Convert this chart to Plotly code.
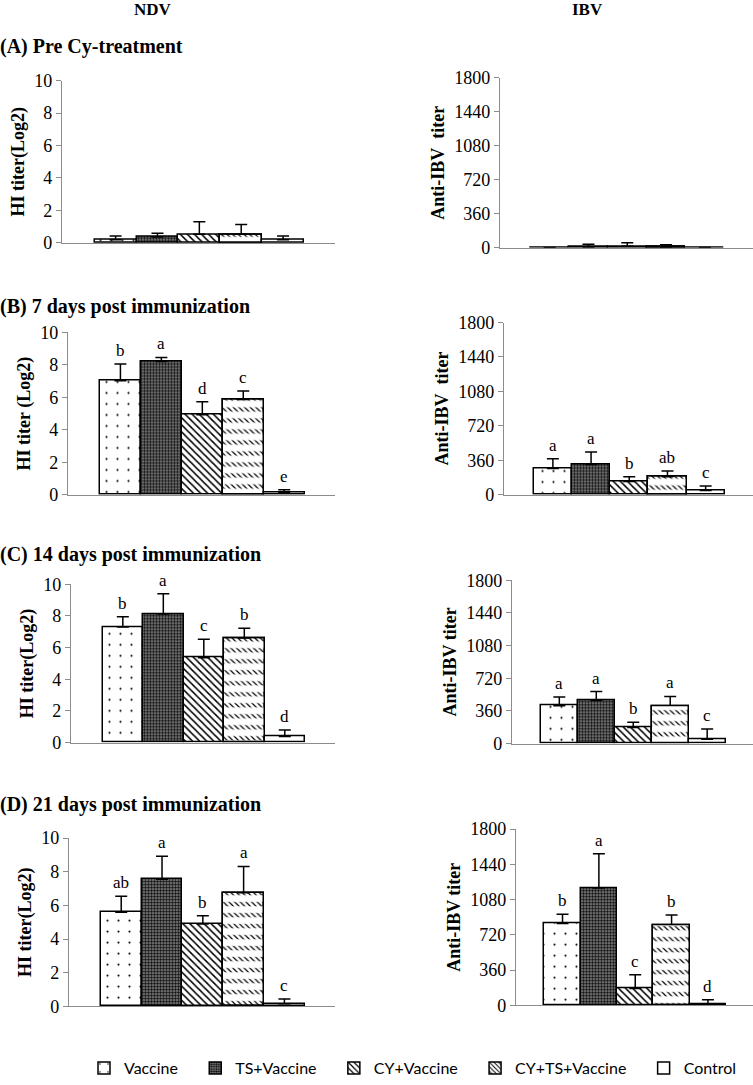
import plotly.graph_objects as go

groups = ["Vaccine", "TS+Vaccine", "CY+Vaccine", "CY+TS+Vaccine", "Control"]

# NDV HI titer (Log2)
ndv_pre = [0.20, 0.37, 0.53, 0.53, 0.20]
ndv_pre_err = [0.23, 0.23, 0.77, 0.60, 0.23]
ndv_pre_sig = ["", "", "", "", ""]
ndv_d7 = [7.02, 8.21, 4.93, 5.85, 0.12]
ndv_d7_err = [1.03, 0.25, 0.80, 0.54, 0.19]
ndv_d7_sig = ["b", "a", "d", "c", "e"]
ndv_d14 = [7.30, 8.12, 5.36, 6.61, 0.38]
ndv_d14_err = [0.65, 1.29, 1.17, 0.61, 0.41]
ndv_d14_sig = ["b", "a", "c", "b", "d"]
ndv_d21 = [5.60, 7.55, 4.89, 6.75, 0.16]
ndv_d21_err = [0.95, 1.37, 0.49, 1.57, 0.27]
ndv_d21_sig = ["ab", "a", "b", "a", "c"]

# IBV antibody titer
ibv_pre = [4, 10, 18, 10, 4]
ibv_pre_err = [0, 29, 35, 22, 0]
ibv_pre_sig = ["", "", "", "", ""]
ibv_d7 = [275, 317, 139, 188, 45]
ibv_d7_err = [101, 129, 49, 59, 45]
ibv_d7_sig = ["a", "a", "b", "ab", "c"]
ibv_d14 = [417, 476, 176, 413, 48]
ibv_d14_err = [95, 98, 58, 107, 113]
ibv_d14_sig = ["a", "a", "b", "a", "c"]
ibv_d21 = [836, 1199, 173, 822, 17]
ibv_d21_err = [95, 350, 139, 102, 41]
ibv_d21_sig = ["b", "a", "c", "b", "d"]

ndv_ticks = [0, 2, 4, 6, 8, 10]
ibv_ticks = [0, 360, 720, 1080, 1440, 1800]

headings = ["(A) Pre Cy-treatment", "(B) 7 days post immunization",
            "(C) 14 days post immunization", "(D) 21 days post immunization"]

W, H = 753, 1085
SERIF = "Liberation Serif, Times New Roman, serif"
GREY = "#8c8c8c"

# fill styles for each group
styles = {
    "Vaccine": dict(color="white", pattern=dict(shape=".", size=11, solidity=0.03, fgopacity=1,
                                                 fgcolor="black", bgcolor="white", fillmode="overlay")),
    "TS+Vaccine": dict(color="#8c8c8c", pattern=dict(shape=".", size=3, solidity=0.55, fgopacity=1,
                                                      fgcolor="#111111", bgcolor="#8c8c8c", fillmode="overlay")),
    "CY+Vaccine": dict(color="white", pattern=dict(shape="\\", size=5, solidity=0.3, fgopacity=1,
                                                    fgcolor="black", bgcolor="white", fillmode="overlay")),
    "CY+TS+Vaccine": dict(color="white", pattern=dict(shape="\\", size=4, solidity=0.3, fgopacity=1,
                                                       fgcolor="black", bgcolor="white", fillmode="overlay")),
    "Control": dict(color="white", pattern=dict(shape="", fillmode="overlay")),
}

# panel layout in pixels: (x0, ytop, ybottom) for NDV and IBV, heading y
rows = [
    (ndv_pre, ndv_pre_err, ndv_pre_sig, ibv_pre, ibv_pre_err, ibv_pre_sig,
     "HI titer(Log2)", "Anti-IBV\u00a0\u00a0titer", (62, 81, 244), (500, 78, 249), 47),
    (ndv_d7, ndv_d7_err, ndv_d7_sig, ibv_d7, ibv_d7_err, ibv_d7_sig,
     "HI titer (Log2)", "Anti-IBV\u00a0\u00a0titer", (68, 334, 497), (504, 324, 497), 308),
    (ndv_d14, ndv_d14_err, ndv_d14_sig, ibv_d14, ibv_d14_err, ibv_d14_sig,
     "HI titer(Log2)", "Anti-IBV titer", (71, 587, 746), (512, 583, 747), 557),
    (ndv_d21, ndv_d21_err, ndv_d21_sig, ibv_d21, ibv_d21_err, ibv_d21_sig,
     "HI titer(Log2)", "Anti-IBV titer", (69, 842, 1011), (516, 833, 1010), 808),
]

fig = go.Figure()
annotations = []
layout_axes = {}

ax = 0
for r, row in enumerate(rows):
    (nm, ne, ns, im, ie, isig, ltitle, rtitle, lpos, rpos, head_y) = row
    for c, (means, errs, sigs, title, pos, ticks, ymax) in enumerate([
        (nm, ne, ns, ltitle, lpos, ndv_ticks, 10),
        (im, ie, isig, rtitle, rpos, ibv_ticks, 1800),
    ]):
        ax += 1
        xa = "x" if ax == 1 else f"x{ax}"
        ya = "y" if ax == 1 else f"y{ax}"
        x0 = pos[0]
        x1 = 335 if c == 0 else W
        for i, g in enumerate(groups):
            st = styles[g]
            pad = "\u00a0" * 3 if i < len(groups) - 1 else ""
            fig.add_trace(go.Bar(
                x=[g], y=[means[i]], name=g + pad, xaxis=xa, yaxis=ya,
                width=1, legendgroup=g, showlegend=(ax == 1),
                marker=dict(color=st["color"], pattern=st["pattern"],
                            line=dict(color="black", width=1.5)),
                error_y=dict(type="data", array=[errs[i]], arrayminus=[0], symmetric=False,
                             color="black", thickness=1.5, width=6),
            ))
            if g == "CY+TS+Vaccine":
                # white horizontal bands break the hatch into rows
                fig.add_trace(go.Bar(
                    x=[g], y=[means[i]], name=g, xaxis=xa, yaxis=ya,
                    width=1, legendgroup=g, showlegend=False, hoverinfo="skip",
                    marker=dict(color="rgba(0,0,0,0)",
                                pattern=dict(shape="-", size=11, solidity=0.6, fgcolor="white",
                                             fgopacity=1, bgcolor="rgba(0,0,0,0)",
                                             fillmode="overlay"),
                                line=dict(color="black", width=1.5)),
                ))
            if sigs[i]:
                annotations.append(dict(
                    x=g, y=means[i] + errs[i], xref=xa, yref=ya, text=sigs[i],
                    showarrow=False, yanchor="bottom", yshift=2,
                    font=dict(family=SERIF, size=17, color="black")))
        xkey = "xaxis" if ax == 1 else f"xaxis{ax}"
        ykey = "yaxis" if ax == 1 else f"yaxis{ax}"
        layout_axes[xkey] = dict(
            domain=[x0 / W, x1 / W], anchor=ya, type="category",
            categoryorder="array", categoryarray=groups,
            range=[-1.28, 5.24], showticklabels=False, ticks="",
            showline=True, linecolor=GREY, linewidth=1.2, showgrid=False,
            zeroline=False, fixedrange=True)
        layout_axes[ykey] = dict(
            domain=[1 - pos[2] / H, 1 - pos[1] / H], anchor=xa,
            range=[0, ymax], tickvals=ticks, ticks="outside", ticklen=5,
            tickcolor=GREY, tickwidth=1.2, showline=True, linecolor=GREY,
            linewidth=1.2, showgrid=False, zeroline=False, automargin=False,
            tickfont=dict(family=SERIF, size=18, color="black"),
            title=dict(text=f"<b>{title}</b>", standoff=4,
                       font=dict(family=SERIF, size=18, color="black")))
    annotations.append(dict(
        x=0, y=1 - head_y / H, xref="paper", yref="paper", xanchor="left",
        yanchor="middle", showarrow=False, text=f"<b>{headings[r]}</b>", xshift=-2,
        font=dict(family=SERIF, size=20, color="black")))

for txt, xc in [("NDV", 153), ("IBV", 587)]:
    annotations.append(dict(
        x=xc / W, y=1, xref="paper", yref="paper", xanchor="center",
        yanchor="top", showarrow=False, text=f"<b>{txt}</b>", yshift=2,
        font=dict(family=SERIF, size=17, color="black")))

fig.update_layout(
    width=W, height=H, margin=dict(l=0, r=0, t=0, b=0),
    paper_bgcolor="white", plot_bgcolor="white",
    barmode="overlay", bargap=0,
    showlegend=True,
    legend=dict(orientation="h", x=84 / W, y=1 - 1073 / H, xanchor="left",
                yanchor="middle", itemwidth=30, traceorder="normal",
                font=dict(family="Lato, Noto Sans, sans-serif", size=16, color="black")),
    annotations=annotations,
    **layout_axes,
)

fig.write_html("out.html", config={"displayModeBar": False},
               post_script="document.body.style.margin='0';")
